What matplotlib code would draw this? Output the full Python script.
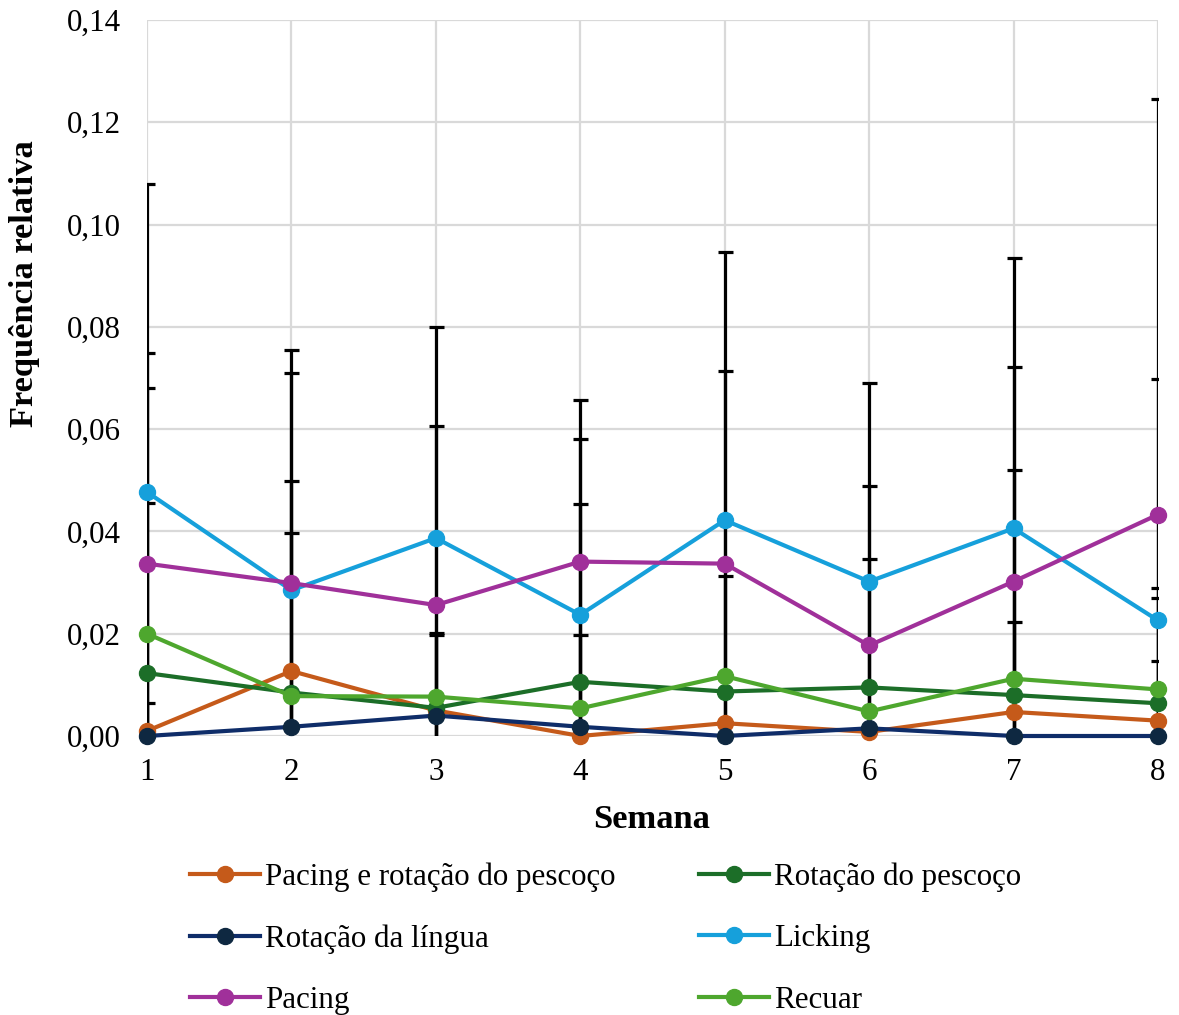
import matplotlib
matplotlib.use("Agg")
import matplotlib.pyplot as plt
from matplotlib.ticker import FixedLocator, FuncFormatter

plt.rcParams['font.family'] = ['Liberation Serif', 'DejaVu Serif']

semanas = [1, 2, 3, 4, 5, 6, 7, 8]

# Frequência relativa média por semana
pacing_rotacao = [0.0010, 0.0127, 0.0050, 0.0000, 0.0025, 0.0008, 0.0047, 0.0030]
rotacao_pescoco = [0.0123, 0.0085, 0.0055, 0.0106, 0.0087, 0.0095, 0.0080, 0.0064]
rotacao_lingua = [0.0000, 0.0018, 0.0040, 0.0018, 0.0000, 0.0015, 0.0000, 0.0000]
licking = [0.0477, 0.0285, 0.0387, 0.0237, 0.0422, 0.0302, 0.0406, 0.0226]
pacing = [0.0337, 0.0299, 0.0256, 0.0341, 0.0337, 0.0177, 0.0302, 0.0433]
recuar = [0.0200, 0.0078, 0.0077, 0.0054, 0.0117, 0.0048, 0.0112, 0.0091]

# Desvio padrão por semana
dp_pacing_rotacao = [0.0055, 0.0372, 0.0, 0.0197, 0.0, 0.0, 0.0, 0.0117]
dp_rotacao_pescoco = [0.0332, 0.0311, 0.0146, 0.0474, 0.0, 0.0252, 0.0143, 0.0206]
dp_rotacao_lingua = [0.0, 0.0, 0.0, 0.0, 0.0, 0.0, 0.0, 0.0]
dp_licking = [0.0603, 0.0424, 0.0412, 0.0420, 0.0525, 0.0389, 0.0528, 0.0473]
dp_pacing = [0.0411, 0.0456, 0.0350, 0.0, 0.0377, 0.0312, 0.0420, 0.0812]
dp_recuar = [0.0480, 0.0, 0.0120, 0.0399, 0.0195, 0.0, 0.0408, 0.0198]

nomes = ["Pacing e rotação do pescoço", "Rotação do pescoço", "Rotação da língua",
         "Licking", "Pacing", "Recuar"]
cores_linha = ["#C55A1A", "#1C6E28", "#0F2D69", "#16A0DB", "#A0309A", "#4EA72E"]
cores_marcador = ["#C55A1A", "#1C6E28", "#0E2841", "#16A0DB", "#A0309A", "#4EA72E"]
medias = [pacing_rotacao, rotacao_pescoco, rotacao_lingua, licking, pacing, recuar]
desvios = [dp_pacing_rotacao, dp_rotacao_pescoco, dp_rotacao_lingua, dp_licking,
           dp_pacing, dp_recuar]
y_ticks = [0.00, 0.02, 0.04, 0.06, 0.08, 0.10, 0.12, 0.14]

W, H = 1179, 1015
fig = plt.figure(figsize=(W / 100, H / 100), dpi=100)
ax = fig.add_axes([147 / W, 1 - 736 / H, (1158 - 147) / W, (736 - 20) / H])

ax.set_xlim(1, 8)
ax.set_ylim(0, 0.14)
ax.xaxis.set_major_locator(FixedLocator(semanas))
ax.yaxis.set_major_locator(FixedLocator(y_ticks))
ax.yaxis.set_major_formatter(FuncFormatter(lambda v, p: f"{v:.2f}".replace(".", ",")))
ax.grid(True, color="#D9D9D9", linewidth=1.6, zorder=0)
ax.set_axisbelow(True)
for s in ax.spines.values():
    s.set_visible(False)
ax.tick_params(axis="both", length=0, labelsize=22.3)
ax.tick_params(axis="y", pad=19)
ax.tick_params(axis="x", pad=16)

# barras de erro (pretas) sob as linhas
for m, d in zip(medias, desvios):
    ax.errorbar(semanas, m, yerr=d, fmt="none", ecolor="black", elinewidth=2.3,
                capsize=5.4, capthick=2.3, zorder=2)

handles = []
for i, (m, nome) in enumerate(zip(medias, nomes)):
    ln, = ax.plot(semanas, m, color=cores_linha[i], linewidth=3.0, marker="o",
                  markersize=11.5, markerfacecolor=cores_marcador[i],
                  markeredgecolor=cores_marcador[i], label=nome, zorder=3 + i,
                  clip_on=False)
    handles.append(ln)

fig.text(652 / W, 1 - 820 / H, "Semana", fontsize=24.8, fontweight="bold",
         ha="center", va="center")
fig.text(25 / W, 1 - 284 / H, "Frequência relativa", fontsize=24.8, fontweight="bold",
         rotation=90, ha="center", va="center")

ordem = [0, 2, 4, 1, 3, 5]
leg = fig.legend([handles[k] for k in ordem], [nomes[k] for k in ordem],
                 loc="upper left", bbox_to_anchor=(190 / W, 1 - 862 / H),
                 ncol=2, frameon=False, fontsize=22.3, handlelength=2.26,
                 handletextpad=0.16, labelspacing=1.05, columnspacing=2.7,
                 borderaxespad=0, borderpad=0)

fig.savefig("out.png", dpi=100)
